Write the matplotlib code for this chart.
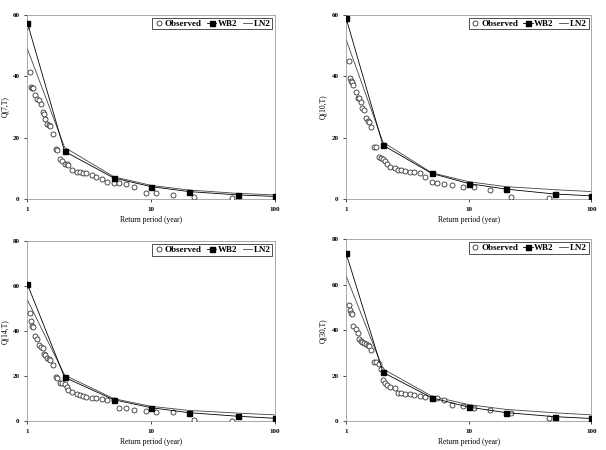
import matplotlib
matplotlib.use("Agg")
import matplotlib.pyplot as plt

plt.rcParams['font.family'] = ['Liberation Serif']
plt.rcParams['font.weight'] = 'bold'

fit_T = [1.0, 2, 5, 10, 20, 50, 100]

obs_T1 = [1.0, 1.05, 1.08, 1.1, 1.12, 1.15, 1.2, 1.25, 1.28, 1.33, 1.36, 1.4, 1.45, 1.5, 1.53, 1.6, 1.7, 1.75, 1.85, 1.92, 2.0, 2.08, 2.15, 2.3, 2.5, 2.65, 2.8, 3.0, 3.3, 3.6, 4.0, 4.4, 5.0, 5.5, 6.3, 7.3, 9.0, 11.0, 15.0, 22.0, 45.0]
obs_Q1 = [56.5, 41.5, 36.5, 36.3, 36.0, 34.0, 32.5, 32.3, 31.0, 28.3, 27.8, 26.0, 24.5, 24.0, 23.8, 21.2, 16.2, 16.0, 13.0, 12.5, 11.5, 11.3, 11.0, 9.5, 8.8, 8.7, 8.5, 8.3, 7.8, 7.2, 6.5, 5.5, 5.3, 5.1, 4.8, 4.0, 2.0, 2.0, 1.2, 0.5, 0.3]
wb_Q1 = [57.5, 15.5, 6.8, 4.0, 2.4, 1.3, 0.8]
ln_Q1 = [49.0, 16.8, 7.2, 4.4, 2.9, 1.8, 1.3]

obs_T2 = obs_T1
obs_Q2 = [58.5, 45.0, 39.5, 38.5, 38.0, 37.0, 35.0, 33.0, 32.8, 31.5, 29.5, 29.0, 26.5, 25.5, 25.0, 23.5, 17.0, 16.8, 13.8, 13.3, 13.0, 12.5, 11.5, 10.5, 10.0, 9.5, 9.3, 9.0, 8.8, 8.7, 8.5, 7.0, 5.5, 5.3, 4.8, 4.5, 4.0, 3.8, 3.0, 0.5, 0.3]
wb_Q2 = [59.0, 17.5, 8.3, 5.0, 3.2, 1.6, 1.0]
ln_Q2 = [52.0, 18.5, 8.5, 5.6, 4.0, 3.0, 2.4]

obs_T3 = obs_T1
obs_Q3 = [60.5, 48.0, 44.5, 42.5, 42.0, 38.0, 36.5, 34.0, 33.0, 32.5, 30.0, 29.5, 28.0, 27.5, 27.0, 25.0, 19.5, 19.0, 17.0, 16.8, 16.5, 15.0, 14.0, 13.0, 12.0, 11.5, 11.0, 10.8, 10.5, 10.3, 10.0, 9.5, 9.3, 6.0, 6.0, 5.0, 4.5, 4.2, 4.0, 0.5, 0.3]
wb_Q3 = [61.0, 19.5, 9.5, 6.0, 3.8, 2.2, 1.3]
ln_Q3 = [54.0, 20.5, 10.0, 6.6, 4.8, 3.6, 2.8]

obs_T4 = obs_T1
obs_Q4 = [73.5, 51.0, 49.0, 47.5, 47.0, 42.0, 40.5, 39.0, 36.0, 35.5, 35.0, 34.5, 34.0, 33.5, 33.0, 31.5, 26.0, 26.0, 25.0, 23.0, 18.0, 17.0, 16.0, 15.0, 14.5, 12.5, 12.3, 12.0, 11.8, 11.5, 11.0, 10.5, 10.3, 10.0, 9.5, 7.0, 6.5, 6.0, 5.0, 3.5, 1.2]
wb_Q4 = [74.0, 21.5, 10.3, 6.2, 3.8, 2.0, 1.2]
ln_Q4 = [64.0, 23.0, 11.0, 7.3, 5.2, 3.7, 2.8]

panels = [
    ("Q(7,T)", 60, obs_T1, obs_Q1, wb_Q1, ln_Q1, [0.045, 0.558, 0.409, 0.409]),
    ("Q(10,T)", 60, obs_T2, obs_Q2, wb_Q2, ln_Q2, [0.571, 0.558, 0.405, 0.409]),
    ("Q(14,T)", 80, obs_T3, obs_Q3, wb_Q3, ln_Q3, [0.045, 0.064, 0.409, 0.400]),
    ("Q(30,T)", 80, obs_T4, obs_Q4, wb_Q4, ln_Q4, [0.571, 0.064, 0.405, 0.404]),
]

fig = plt.figure(figsize=(6.06, 4.50), dpi=100)
for ylab, ymax, oT, oQ, wQ, lQ, pos in panels:
    ax = fig.add_axes(pos)
    ax.plot(oT, oQ, 'o', mfc='white', mec='#333333', ms=3.6, mew=0.6, label='Observed', zorder=3)
    ax.plot(fit_T, wQ, '-s', color='black', lw=0.6, ms=3.6, label='WB2', zorder=4)
    ax.plot(fit_T, lQ, '-', color='#444444', lw=0.6, label='LN2', zorder=2)
    ax.set_xscale('log')
    ax.set_xlim(1, 100)
    ax.set_ylim(0, ymax)
    ax.set_yticks(range(0, ymax + 1, 20))
    ax.set_xticks([1, 10, 100])
    ax.set_xticklabels(['1', '10', '100'])
    ax.minorticks_off()
    ax.tick_params(labelsize=5, length=2, width=0.5)
    for s in ax.spines.values():
        s.set_linewidth(0.5)
        s.set_color('#888888')
    ax.set_xlabel('Return period (year)', fontsize=5.5, labelpad=3)
    ax.set_ylabel(ylab, fontsize=5.5, labelpad=3)
    ax.legend(loc='upper right', ncol=3, fontsize=6.5, frameon=True, fancybox=False,
              edgecolor='black', handlelength=1.0, handletextpad=0.2, columnspacing=0.6,
              borderpad=0.2, borderaxespad=0.3).get_frame().set_linewidth(0.6)

fig.savefig('out.png', dpi=100)
